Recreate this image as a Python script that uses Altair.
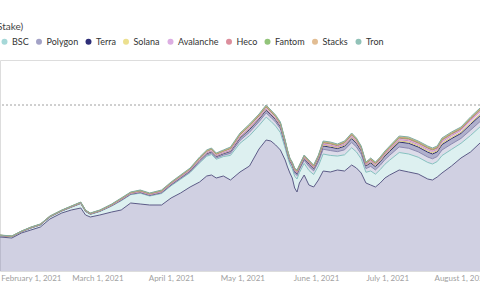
import altair as alt
import pandas as pd

dates = ["2021-01-19","2021-01-24","2021-01-28","2021-02-01","2021-02-05","2021-02-09","2021-02-14","2021-02-18","2021-02-22","2021-02-24",
         "2021-02-26","2021-03-02","2021-03-07","2021-03-11","2021-03-15","2021-03-19","2021-03-23","2021-03-28","2021-04-01","2021-04-05",
         "2021-04-09","2021-04-13","2021-04-16","2021-04-18","2021-04-20","2021-04-23","2021-04-26","2021-04-30","2021-05-04","2021-05-08",
         "2021-05-11","2021-05-13","2021-05-15","2021-05-17","2021-05-19","2021-05-20","2021-05-21","2021-05-22","2021-05-23","2021-05-24",
         "2021-05-25","2021-05-27","2021-05-29","2021-05-31","2021-06-02","2021-06-04","2021-06-07","2021-06-10","2021-06-13","2021-06-16",
         "2021-06-18","2021-06-20","2021-06-22","2021-06-24","2021-06-26","2021-06-28","2021-06-30","2021-07-02","2021-07-06","2021-07-10",
         "2021-07-14","2021-07-18","2021-07-20","2021-07-22","2021-07-24","2021-07-28","2021-08-01","2021-08-05","2021-08-09"]

eth = [17.0,16.5,19.0,20.5,22.0,26.0,29.0,30.5,31.5,28.0,
       27.0,28.0,29.5,30.5,34.0,33.5,33.0,33.0,36.5,39.0,
       42.0,44.5,47.5,48.0,46.5,47.5,45.5,49.5,52.5,61.0,
       65.5,65.0,63.0,60.5,55.5,52.0,49.0,46.5,41.5,39.5,
       44.0,48.0,43.0,42.0,45.5,50.0,49.5,50.5,50.0,53.0,
       51.5,49.0,44.0,43.0,42.0,44.0,46.5,48.0,50.5,49.5,
       48.5,46.0,45.5,47.0,49.0,52.5,56.5,59.5,64.0]
bsc = [0.58,0.6,0.55,0.95,1.0,0.98,0.96,1.37,2.22,1.76,
       1.31,1.74,2.97,4.61,4.17,5.4,4.5,5.75,6.11,6.88,
       7.19,9.54,9.87,10.23,9.37,9.71,12.31,14.37,15.12,11.75,
       11.43,9.84,9.43,8.69,5.93,4.96,4.28,4.63,5.88,6.5,
       5.16,5.79,7.27,6.24,7.07,8.49,8.29,6.97,8.1,8.62,
       8.03,7.1,5.36,7.01,6.41,6.68,6.89,7.43,8.75,9.0,
       8.39,8.29,8.01,7.72,8.71,8.29,7.35,8.23,8.06]
polygon = [0.04,0.04,0.04,0.05,0.05,0.05,0.05,0.06,0.08,0.08,
           0.08,0.09,0.12,0.18,0.18,0.22,0.22,0.26,0.3,0.35,
           0.4,0.55,0.6,0.65,0.65,0.7,1.0,1.4,1.8,1.9,
           2.1,2.0,2.0,1.9,1.5,1.3,1.2,1.25,1.55,1.7,
           1.45,1.6,2.0,1.8,2.05,2.4,2.45,2.2,2.5,2.65,
           2.5,2.3,1.85,2.3,2.15,2.2,2.3,2.45,2.8,2.85,
           2.7,2.7,2.6,2.5,2.8,2.7,2.45,2.7,2.65]
terra = [0.08,0.08,0.08,0.1,0.1,0.1,0.1,0.12,0.15,0.14,
         0.13,0.14,0.2,0.3,0.28,0.35,0.32,0.38,0.42,0.48,
         0.52,0.7,0.74,0.78,0.74,0.78,1.0,1.2,1.35,1.3,
         1.35,1.25,1.2,1.15,0.85,0.75,0.68,0.72,0.9,1.0,
         0.85,0.95,1.2,1.1,1.3,1.6,1.7,1.55,1.8,1.95,
         1.85,1.7,1.35,1.75,1.65,1.75,1.85,2.0,2.4,2.5,
         2.4,2.45,2.4,2.35,2.7,2.7,2.5,2.85,2.9]
solana = [0.03,0.03,0.03,0.04,0.04,0.04,0.04,0.05,0.06,0.06,
          0.05,0.06,0.08,0.1,0.1,0.12,0.11,0.13,0.14,0.16,
          0.18,0.24,0.26,0.27,0.26,0.27,0.33,0.4,0.45,0.42,
          0.44,0.4,0.4,0.38,0.3,0.26,0.24,0.25,0.3,0.33,
          0.28,0.31,0.38,0.35,0.4,0.5,0.52,0.46,0.53,0.56,
          0.53,0.48,0.38,0.48,0.45,0.46,0.48,0.51,0.6,0.62,
          0.59,0.6,0.58,0.57,0.64,0.63,0.6,0.68,0.7]
avalanche = [0.02,0.02,0.02,0.03,0.03,0.03,0.03,0.03,0.04,0.04,
             0.04,0.04,0.05,0.06,0.06,0.07,0.07,0.08,0.09,0.1,
             0.11,0.14,0.15,0.16,0.15,0.16,0.2,0.24,0.28,0.28,
             0.3,0.28,0.28,0.27,0.22,0.19,0.17,0.18,0.22,0.24,
             0.2,0.22,0.28,0.26,0.3,0.38,0.4,0.36,0.42,0.46,
             0.44,0.4,0.32,0.42,0.4,0.42,0.45,0.5,0.6,0.64,
             0.63,0.66,0.66,0.66,0.78,0.85,0.9,1.15,1.3]
heco = [0.12,0.12,0.12,0.15,0.15,0.15,0.15,0.18,0.22,0.2,
        0.19,0.21,0.3,0.4,0.38,0.45,0.42,0.48,0.5,0.55,
        0.58,0.7,0.72,0.74,0.7,0.72,0.85,0.95,1.0,0.9,
        0.9,0.82,0.8,0.76,0.55,0.47,0.42,0.44,0.52,0.56,
        0.48,0.5,0.6,0.55,0.6,0.7,0.7,0.62,0.7,0.74,
        0.7,0.64,0.52,0.64,0.6,0.62,0.63,0.66,0.75,0.76,
        0.72,0.72,0.7,0.68,0.74,0.72,0.66,0.72,0.7]
fantom = [0.02,0.02,0.02,0.02,0.02,0.02,0.02,0.03,0.03,0.03,
          0.03,0.03,0.04,0.05,0.05,0.06,0.06,0.07,0.08,0.09,
          0.1,0.12,0.13,0.13,0.12,0.13,0.16,0.2,0.22,0.22,
          0.24,0.22,0.22,0.21,0.16,0.14,0.13,0.13,0.16,0.17,
          0.15,0.16,0.2,0.18,0.21,0.26,0.27,0.24,0.28,0.3,
          0.28,0.26,0.21,0.27,0.25,0.26,0.27,0.29,0.34,0.35,
          0.33,0.34,0.33,0.32,0.36,0.36,0.34,0.4,0.42]
stacks = [0.03,0.03,0.03,0.03,0.03,0.03,0.03,0.04,0.05,0.05,
          0.04,0.05,0.06,0.08,0.08,0.09,0.08,0.1,0.1,0.11,
          0.12,0.15,0.16,0.16,0.15,0.16,0.2,0.24,0.26,0.25,
          0.26,0.24,0.23,0.22,0.17,0.15,0.13,0.14,0.17,0.18,
          0.15,0.17,0.21,0.19,0.21,0.25,0.25,0.22,0.25,0.27,
          0.25,0.23,0.19,0.24,0.22,0.23,0.24,0.25,0.29,0.3,
          0.28,0.28,0.27,0.26,0.29,0.28,0.26,0.29,0.29]
tron = [0.08,0.08,0.08,0.1,0.1,0.1,0.1,0.12,0.15,0.14,
        0.13,0.14,0.18,0.22,0.2,0.24,0.22,0.25,0.26,0.28,
        0.3,0.36,0.37,0.38,0.36,0.37,0.45,0.5,0.52,0.48,
        0.48,0.45,0.44,0.42,0.32,0.28,0.25,0.26,0.3,0.32,
        0.28,0.3,0.36,0.33,0.36,0.42,0.42,0.38,0.42,0.45,
        0.42,0.39,0.32,0.39,0.37,0.38,0.39,0.41,0.47,0.48,
        0.46,0.46,0.45,0.44,0.48,0.47,0.44,0.48,0.48]

chains = ["Ethereum", "BSC", "Polygon", "Terra", "Solana", "Avalanche", "Heco", "Fantom", "Stacks", "Tron"]
series = [eth, bsc, polygon, terra, solana, avalanche, heco, fantom, stacks, tron]
fill_colors = ["#8483b3", "#a6d8d8", "#a3a2c6", "#2f2f78", "#ece08f", "#dcaee2", "#dc8e9c", "#92c47a", "#e2bd93", "#92c2b8"]
line_colors = ["#5c5b87", "#86c2c0", "#8b89b0", "#2e2e6e", "#d6c77a", "#c58fd0", "#c97c8c", "#7fae62", "#d3a877", "#7fada3"]
month_ticks = [2, 3, 4, 5, 6, 7, 8]

rows = []
for k, (name, vals) in enumerate(zip(chains, series)):
    for d, v in zip(dates, vals):
        rows.append({"date": d + "T00:00:00", "chain": name, "tvl": v, "k": k})
df = pd.DataFrame(rows)

xscale = alt.Scale(domain=[alt.DateTime(year=2021, month=1, date=19), alt.DateTime(year=2021, month=8, date=9)])
yscale = alt.Scale(domain=[0, 105.5], nice=False, zero=True)

xaxis = alt.Axis(
    values=[alt.DateTime(year=2021, month=m, date=1) for m in month_ticks],
    format="%B %-d, %Y", title=None, domain=False, ticks=False, grid=False,
    labelFont="Lato", labelFontSize=8, labelColor="#a0a0a0", labelPadding=3,
    labelFlush=False, labelOverlap=False,
)

base = alt.Chart(df)

rule = base.transform_aggregate(
    total="sum(tvl)", groupby=["date"]
).transform_aggregate(
    peak="max(total)"
).mark_rule(color="#a0a0a0", strokeDash=[2, 2], strokeWidth=1).encode(
    y=alt.Y("peak:Q", scale=yscale, axis=None)
)

area = base.mark_area(fillOpacity=0.38, interpolate="linear").encode(
    x=alt.X("date:T", scale=xscale, axis=xaxis),
    y=alt.Y("tvl:Q", stack="zero", scale=yscale, axis=None),
    fill=alt.Fill("chain:N", scale=alt.Scale(domain=chains, range=fill_colors),
                  legend=alt.Legend(title=None, orient="none", legendX=0, legendY=-23,
                                    direction="horizontal", symbolType="circle", symbolSize=36,
                                    symbolOpacity=1, symbolStrokeWidth=0,
                                    labelFont="Lato", labelFontSize=9, labelColor="#333333",
                                    labelOffset=3, columnPadding=5.5, values=chains[1:])),
    order=alt.Order("k:Q", sort="ascending"),
)

lines = base.mark_line(strokeWidth=1, interpolate="linear").encode(
    x=alt.X("date:T", scale=xscale),
    y=alt.Y("tvl:Q", stack="zero", scale=yscale),
    stroke=alt.Stroke("chain:N", scale=alt.Scale(domain=chains, range=line_colors), legend=None),
    order=alt.Order("k:Q", sort="ascending"),
)

chart = alt.layer(rule, area, lines).properties(
    width=480, height=211,
    autosize="none",
    padding={"left": 0, "top": 60, "right": 0, "bottom": 29},
    title=alt.TitleParams("Stake)", anchor="start", font="Lato", fontSize=10, fontWeight="normal",
                          color="#444444", offset=5, dx=-1),
).configure_view(stroke=None).configure(background="white")

chart.save("out.html", embed_options={"renderer": "svg", "actions": False})
